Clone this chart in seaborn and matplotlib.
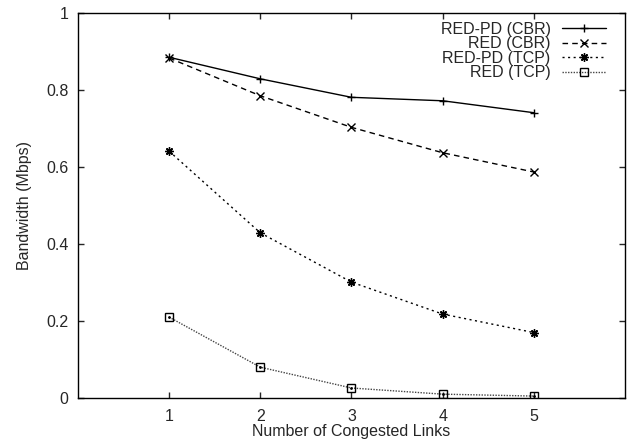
import pandas as pd
import matplotlib
matplotlib.use("Agg")
import matplotlib.pyplot as plt
import seaborn as sns

# values
links = [1, 2, 3, 4, 5]
redpd_cbr = [0.885, 0.829, 0.781, 0.772, 0.741]
red_cbr = [0.883, 0.785, 0.703, 0.637, 0.587]
redpd_tcp = [0.641, 0.429, 0.301, 0.218, 0.170]
red_tcp = [0.210, 0.080, 0.026, 0.010, 0.005]
series_names = ["RED-PD (CBR)", "RED (CBR)", "RED-PD (TCP)", "RED (TCP)"]

df = pd.DataFrame({"links": links, "RED-PD (CBR)": redpd_cbr, "RED (CBR)": red_cbr,
                   "RED-PD (TCP)": redpd_tcp, "RED (TCP)": red_tcp})

sns.set_style("ticks")
plt.rcParams['font.family'] = ['Liberation Sans', 'DejaVu Sans']
fs = 11.5

fig = plt.figure(figsize=(6.29, 4.48), dpi=100)
ax = fig.add_axes([0.124, 0.1116, 0.8696, 0.8594])

colors = ["black", "black", "black", "#444444"]
markers = ["+", "x", (8, 2, 0), "s"]
dashes = [(None, None), (4, 3), (1.5, 2.5), (1, 1)]

for name, c, m, d in zip(series_names, colors, markers, dashes):
    kw = {}
    if d[0] is not None:
        kw["dashes"] = d
    sns.lineplot(data=df, x="links", y=name, color=c, marker=m, label=name,
                 linewidth=1.0, markersize=6, markeredgewidth=1.0,
                 markerfacecolor="none", markeredgecolor="black", ax=ax, **kw)

# small dot inside the squares
ax.plot(links, red_tcp, linestyle="none", marker=".", markersize=2, color="black")

ax.set_xlim(0, 6)
ax.set_ylim(0, 1)
ax.set_xticks(links)
ax.set_yticks([0, 0.2, 0.4, 0.6, 0.8, 1])
ax.set_yticklabels(["0", "0.2", "0.4", "0.6", "0.8", "1"])
ax.tick_params(direction="in", length=4, width=1, labelsize=fs,
               top=True, right=True)
ax.tick_params(axis="x", pad=8)
ax.tick_params(axis="y", pad=7)
for sp in ax.spines.values():
    sp.set_visible(True)
    sp.set_linewidth(1.0)
    sp.set_color("black")

ax.set_xlabel("Number of Congested Links", fontsize=fs, labelpad=0)
ax.set_ylabel("Bandwidth (Mbps)", fontsize=fs, labelpad=10)

handles, labels = ax.get_legend_handles_labels()
ax.legend(handles[:4], labels[:4], loc="upper right", bbox_to_anchor=(0.965, 0.977),
          frameon=False, markerfirst=False, fontsize=fs, handlelength=2.75,
          handletextpad=0.7, labelspacing=-0.03, borderaxespad=0, borderpad=0)

fig.savefig("out.png", dpi=100)
